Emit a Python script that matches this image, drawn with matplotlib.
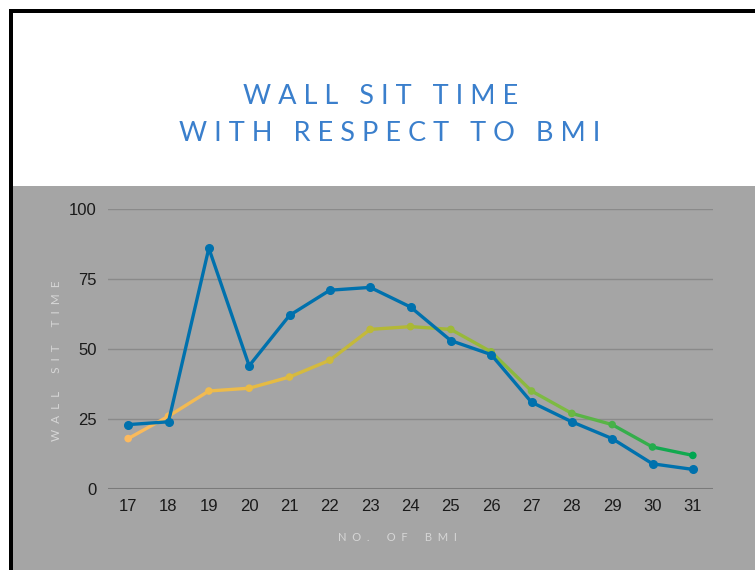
import numpy as np
import matplotlib.pyplot as plt
from matplotlib.collections import LineCollection
from matplotlib.colors import LinearSegmentedColormap
from matplotlib.patches import Rectangle

# BMI values and wall sit times (seconds)
bmi = [17, 18, 19, 20, 21, 22, 23, 24, 25, 26, 27, 28, 29, 30, 31]
wall_sit = [23, 24, 86, 44, 62, 71, 72, 65, 53, 48, 31, 24, 18, 9, 7]
trend = [18, 26, 35, 36, 40, 46, 57, 58, 57, 49, 35, 27, 23, 15, 12]
y_ticks = [0, 25, 50, 75, 100]

BLUE = "#0071AD"
TITLE_BLUE = "#3A7FCC"
BG_GRAY = "#A5A5A5"
grad = LinearSegmentedColormap.from_list(
    "warm_to_green", ["#FDBA5E", "#E6BB42", "#ABB834", "#7EBA42", "#00A651"])


def spaced(s, gap=" "):
    # letter-spaced caps, wider gap between words
    return (gap * 3).join(gap.join(w) for w in s.split())


fig = plt.figure(figsize=(7.55, 5.70), dpi=100)
W, H = 755, 570
plt.rcParams["font.family"] = ["Liberation Sans", "DejaVu Sans"]

# page background: white header, gray chart panel, black frame on left/top
fig.patches.append(Rectangle((0, 0), 1, 1, transform=fig.transFigure,
                             facecolor="white", zorder=-3))
fig.patches.append(Rectangle((13 / W, 0), 1, (H - 186) / H,
                             transform=fig.transFigure,
                             facecolor=BG_GRAY, zorder=-2))
fig.patches.append(Rectangle((9 / W, 0), 4 / W, (H - 9) / H,
                             transform=fig.transFigure,
                             facecolor="black", zorder=-1))
fig.patches.append(Rectangle((9 / W, (H - 13) / H), 1, 4 / H,
                             transform=fig.transFigure,
                             facecolor="black", zorder=-1))

fig.text(381 / W, 1 - 97 / H, spaced("WALL SIT TIME"),
         ha="center", va="center", fontsize=19.5, color=TITLE_BLUE,
         family="Lato")
fig.text(390 / W, 1 - 133 / H, spaced("WITH RESPECT TO BMI"),
         ha="center", va="center", fontsize=19.5, color=TITLE_BLUE,
         family="Lato")

ax = fig.add_axes([108 / W, 81 / H, 605 / W, 280 / H])
ax.set_facecolor("none")
ax.set_xlim(16.5, 31.5)
ax.set_ylim(0, 100)
for side in ["top", "right", "left", "bottom"]:
    ax.spines[side].set_visible(False)
ax.set_yticks(y_ticks)
ax.set_xticks(bmi)
ax.tick_params(length=0, labelsize=12, colors="#1A1A1A")
ax.tick_params(axis="y", pad=8)
ax.tick_params(axis="x", pad=7)
for t in y_ticks[1:]:
    ax.axhline(t, color="#8A8A8A", lw=1.0, zorder=0)
ax.axhline(0, color="#7A7A7A", lw=1.5, zorder=0)

# gradient series
x = np.array(bmi, dtype=float)
y = np.array(trend, dtype=float)
pts = np.column_stack([x, y]).reshape(-1, 1, 2)
segs = np.concatenate([pts[:-1], pts[1:]], axis=1)
pos = (x - x.min()) / (x.max() - x.min())
seg_pos = (pos[:-1] + pos[1:]) / 2
lc = LineCollection(segs, colors=grad(seg_pos), linewidths=2.4,
                    capstyle="round", joinstyle="round", zorder=2)
ax.add_collection(lc)
ax.scatter(x, y, s=30, color=grad(pos), zorder=3, linewidths=0)

ax.plot(bmi, wall_sit, color=BLUE, lw=2.4, marker="o", markersize=5.5,
        solid_joinstyle="round", zorder=4)

ax.set_xlabel(spaced("NO. OF BMI", "  "),
              color="#D6D6D6", fontsize=8, family="Lato")
ax.xaxis.set_label_coords((397 - 108) / 605, -(532 - 489) / 280)
ax.set_ylabel(spaced("WALL SIT TIME", "  "),
              color="#D6D6D6", fontsize=8.5, family="Lato")
ax.yaxis.set_label_coords((62 - 108) / 605, (489 - 361) / 280)

fig.savefig("out.png", dpi=100)
